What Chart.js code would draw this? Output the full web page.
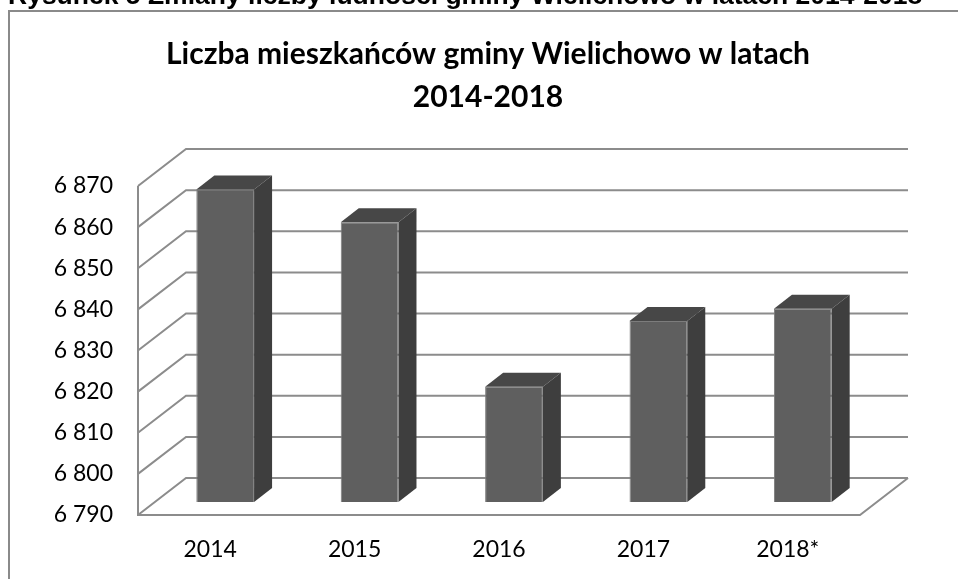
<!DOCTYPE html>
<html>
<head>
<meta charset="utf-8">
<script src="https://cdn.jsdelivr.net/npm/chart.js@4.4.1/dist/chart.umd.min.js"></script>
<style>
  html, body { margin: 0; padding: 0; background: #ffffff; overflow: hidden; }
  #stage { position: relative; width: 958px; height: 579px; overflow: hidden; }
  #box { position: absolute; left: 8px; top: 10px; width: 1100px; height: 800px; border: 2px solid #8a8a8a; box-sizing: border-box; }
  #caption { position: absolute; left: 8px; top: -18px; font: bold 26.5px "Liberation Sans", Arial, sans-serif; line-height: 26.5px; color: #000; white-space: nowrap; }
  canvas { position: absolute; left: 0; top: 0; }
</style>
</head>
<body>
<div id="stage">
  <div id="box"></div>
  <canvas id="c" width="958" height="579"></canvas>
  <div id="caption">Rysunek 5 Zmiany liczby ludności gminy Wielichowo w latach 2014-2018</div>
</div>
<script>
// ---- data ----
const categories = ['2014', '2015', '2016', '2017', '2018*'];
const population = [6866, 6858, 6818, 6834, 6837];
const yMin = 6790;
const yMax = 6870;
const yStep = 10;
const titleLines = ['Liczba mieszkańców gminy Wielichowo w latach', '2014-2018'];

// ---- style constants ----
const WALL_DX = 48, WALL_DY = 37;         // depth of the 3D walls
const BAR_SHIFT_X = 15, BAR_SHIFT_Y = 13; // bars placed inside the depth
const BAR_DX = 18, BAR_DY = 14;           // bar extrusion
const GRID = '#8c8c8c';
const FRONT = '#5f5f5f', TOP = '#474747', SIDE = '#3e3e3e';

function fmt(v) {
  const t = Math.floor(v / 1000), r = v % 1000;
  return t + ' ' + String(r).padStart(3, '0');
}

const frame3d = {
  id: 'frame3d',
  beforeDatasetsDraw(chart) {
    const { ctx, chartArea: { left, right, top, bottom }, scales: { y } } = chart;
    ctx.save();
    ctx.strokeStyle = GRID;
    ctx.lineWidth = 2;
    ctx.beginPath();
    y.ticks.forEach(t => {
      const py = y.getPixelForValue(t.value);
      ctx.moveTo(left, py);
      ctx.lineTo(left + WALL_DX, py - WALL_DY);
      ctx.lineTo(right + WALL_DX, py - WALL_DY);
    });
    ctx.moveTo(left, top);
    ctx.lineTo(left, bottom);
    ctx.lineTo(right, bottom);
    ctx.lineTo(right + WALL_DX, bottom - WALL_DY);
    ctx.stroke();
    ctx.restore();
    ctx.save();
    ctx.translate(BAR_SHIFT_X, -BAR_SHIFT_Y);
  },
  afterDatasetsDraw(chart) {
    const ctx = chart.ctx;
    chart.getDatasetMeta(0).data.forEach(bar => {
      const { x, y, base, width } = bar.getProps(['x', 'y', 'base', 'width'], true);
      const x1 = x - width / 2, x2 = x + width / 2;
      ctx.beginPath();
      ctx.moveTo(x1, y);
      ctx.lineTo(x2, y);
      ctx.lineTo(x2 + BAR_DX, y - BAR_DY);
      ctx.lineTo(x1 + BAR_DX, y - BAR_DY);
      ctx.closePath();
      ctx.fillStyle = TOP;
      ctx.fill();
      ctx.beginPath();
      ctx.moveTo(x2, y);
      ctx.lineTo(x2 + BAR_DX, y - BAR_DY);
      ctx.lineTo(x2 + BAR_DX, base - BAR_DY);
      ctx.lineTo(x2, base);
      ctx.closePath();
      ctx.fillStyle = SIDE;
      ctx.fill();
    });
    ctx.restore();
  }
};

function build() {
  new Chart(document.getElementById('c'), {
    type: 'bar',
    data: {
      labels: categories,
      datasets: [{
        data: population,
        base: yMin,
        backgroundColor: FRONT,
        borderColor: '#7c7c7c',
        borderWidth: 1,
        categoryPercentage: 1,
        barPercentage: 0.4,
        clip: false
      }]
    },
    options: {
      responsive: false,
      animation: false,
      devicePixelRatio: 1,
      layout: { padding: { left: 18, right: 0, top: 0, bottom: 0 } },
      plugins: {
        legend: { display: false },
        tooltip: { enabled: false },
        title: {
          display: true,
          text: titleLines,
          color: '#000',
          font: { family: 'Lato', size: 30, weight: 'bold', lineHeight: 43 / 30 },
          padding: { top: 33, bottom: 67 }
        }
      },
      scales: {
        x: {
          grid: { display: false, drawTicks: false },
          border: { display: false },
          ticks: { color: '#000', font: { family: 'Lato', size: 23 }, padding: 21 },
          afterFit(s) { s.height = 64; }
        },
        y: {
          min: yMin,
          max: yMax,
          grid: { display: false, drawTicks: false },
          border: { display: false },
          ticks: {
            stepSize: yStep,
            color: '#000',
            font: { family: 'Lato', size: 23 },
            padding: 25,
            callback: v => fmt(v)
          },
          afterFit(s) { s.width = 120; }
        },
        yRight: {
          type: 'linear',
          position: 'right',
          grid: { display: false, drawTicks: false },
          border: { display: false },
          ticks: { display: false },
          afterFit(s) { s.width = 98; }
        }
      }
    },
    plugins: [frame3d]
  });
}

Promise.all([
  document.fonts.load('bold 30px Lato'),
  document.fonts.load('23px Lato')
]).then(build, build);
</script>
</body>
</html>
